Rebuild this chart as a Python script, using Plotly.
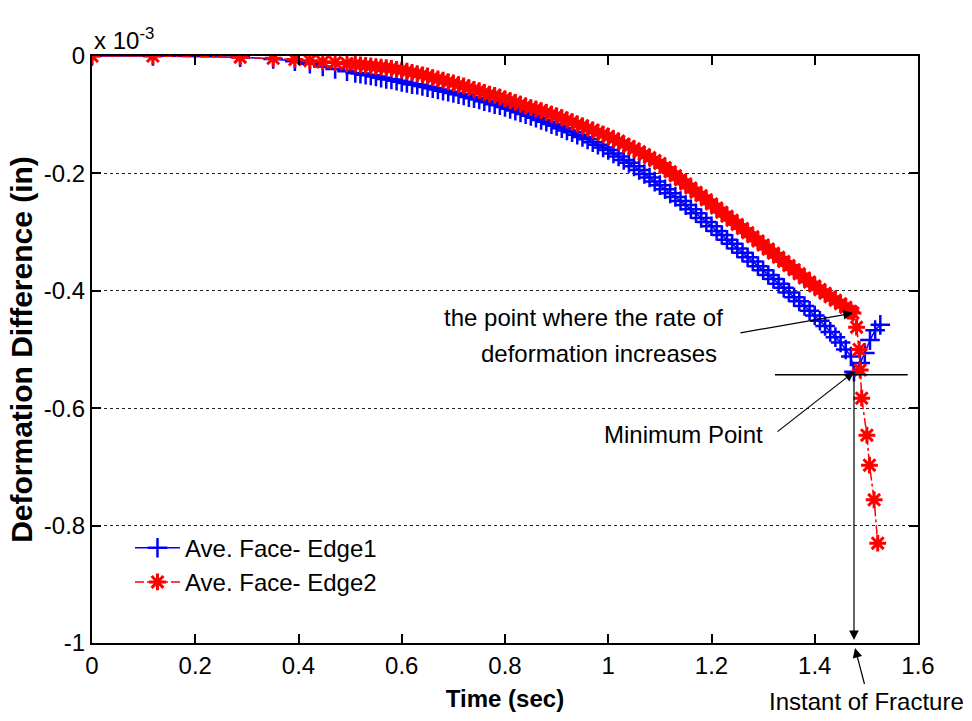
import plotly.graph_objects as go

# ---------------- data (deformation difference in units of 1e-3 in) ----------------
time_main = [0, 0.118, 0.287, 0.351, 0.393, 0.422, 0.447, 0.471, 0.494,
             0.51, 0.52, 0.53, 0.54, 0.55, 0.56, 0.57, 0.58, 0.59, 0.60,
             0.61, 0.62, 0.63, 0.64, 0.65, 0.66, 0.67, 0.68, 0.69, 0.70,
             0.71, 0.72, 0.73, 0.74, 0.75, 0.76, 0.77, 0.78, 0.79, 0.80,
             0.81, 0.82, 0.83, 0.84, 0.85, 0.86, 0.87, 0.88, 0.89, 0.90,
             0.91, 0.92, 0.93, 0.94, 0.95, 0.96, 0.97, 0.98, 0.99, 1.00,
             1.01, 1.02, 1.03, 1.04, 1.05, 1.06, 1.07, 1.08, 1.09, 1.10,
             1.11, 1.12, 1.13, 1.14, 1.15, 1.16, 1.17, 1.18, 1.19, 1.20,
             1.21, 1.22, 1.23, 1.24, 1.25, 1.26, 1.27, 1.28, 1.29, 1.30,
             1.31, 1.32, 1.33, 1.34, 1.35, 1.36, 1.37, 1.38, 1.39, 1.40,
             1.41, 1.42, 1.43, 1.44, 1.45, 1.46, 1.47]

edge1_main = [0, 0, -0.002, -0.005, -0.009, -0.013, -0.018, -0.022, -0.026,
              -0.029, -0.030, -0.032, -0.033, -0.035, -0.037, -0.039, -0.040, -0.042, -0.044,
              -0.046, -0.048, -0.049, -0.051, -0.053, -0.055, -0.057, -0.059, -0.061, -0.063,
              -0.065, -0.067, -0.070, -0.072, -0.074, -0.077, -0.079, -0.082, -0.084, -0.087,
              -0.090, -0.093, -0.096, -0.099, -0.102, -0.105, -0.109, -0.112, -0.116, -0.119,
              -0.123, -0.127, -0.130, -0.134, -0.138, -0.142, -0.147, -0.151, -0.156, -0.160,
              -0.166, -0.171, -0.177, -0.182, -0.188, -0.194, -0.201, -0.207, -0.214, -0.220,
              -0.227, -0.234, -0.240, -0.247, -0.254, -0.261, -0.268, -0.276, -0.283, -0.290,
              -0.298, -0.305, -0.313, -0.320, -0.328, -0.335, -0.343, -0.350, -0.358, -0.365,
              -0.373, -0.380, -0.388, -0.395, -0.403, -0.411, -0.418, -0.426, -0.434, -0.442,
              -0.451, -0.460, -0.470, -0.479, -0.488, -0.500, -0.512]

edge2_main = [0, 0, -0.002, -0.004, -0.006, -0.008, -0.010, -0.011, -0.013,
              -0.014, -0.015, -0.016, -0.017, -0.018, -0.019, -0.020, -0.021, -0.023, -0.024,
              -0.026, -0.028, -0.030, -0.032, -0.034, -0.037, -0.039, -0.041, -0.044, -0.046,
              -0.049, -0.051, -0.054, -0.057, -0.059, -0.062, -0.065, -0.067, -0.070, -0.073,
              -0.076, -0.079, -0.082, -0.085, -0.088, -0.090, -0.093, -0.096, -0.099, -0.102,
              -0.105, -0.109, -0.112, -0.116, -0.119, -0.123, -0.126, -0.130, -0.133, -0.137,
              -0.141, -0.145, -0.150, -0.154, -0.158, -0.163, -0.168, -0.173, -0.178, -0.183,
              -0.190, -0.197, -0.204, -0.211, -0.218, -0.225, -0.232, -0.238, -0.245, -0.252,
              -0.259, -0.266, -0.273, -0.280, -0.287, -0.294, -0.301, -0.308, -0.315, -0.322,
              -0.329, -0.336, -0.343, -0.350, -0.357, -0.364, -0.371, -0.378, -0.385, -0.392,
              -0.398, -0.404, -0.410, -0.416, -0.422, -0.428, -0.435]

edge1_tail_time = [1.476, 1.488, 1.497, 1.507, 1.517, 1.527]
edge1_tail = [-0.538, -0.523, -0.506, -0.484, -0.467, -0.458]

edge2_tail_time = [1.474, 1.481, 1.486, 1.488, 1.491, 1.501, 1.506, 1.515, 1.522]
edge2_tail = [-0.438, -0.462, -0.500, -0.535, -0.583, -0.646, -0.697, -0.756, -0.830]

x_ticks = [0, 0.2, 0.4, 0.6, 0.8, 1.0, 1.2, 1.4, 1.6]
x_tick_text = ["0", "0.2", "0.4", "0.6", "0.8", "1", "1.2", "1.4", "1.6"]
y_ticks = [0, -0.2, -0.4, -0.6, -0.8, -1.0]
y_tick_text = ["0", "-0.2", "-0.4", "-0.6", "-0.8", "-1"]

FONT = "Arial, Liberation Sans, sans-serif"

fig = go.Figure()
fig.add_trace(go.Scatter(
    x=time_main + edge1_tail_time, y=edge1_main + edge1_tail,
    mode="lines+markers", name="Ave. Face- Edge1",
    line=dict(color="#0000FF", width=1.5),
    marker=dict(symbol="cross-thin", size=14, color="#0000FF",
                line=dict(color="#0000FF", width=2.5)),
))
fig.add_trace(go.Scatter(
    x=time_main + edge2_tail_time, y=edge2_main + edge2_tail,
    mode="lines+markers", name="Ave. Face- Edge2",
    line=dict(color="#FF0000", width=1.5, dash="dashdot"),
    marker=dict(symbol="asterisk", size=14, color="#FF0000",
                line=dict(color="#FF0000", width=3)),
))

axis_common = dict(
    showline=True, linecolor="black", linewidth=2, mirror="ticks",
    ticks="inside", ticklen=9, tickwidth=2, tickcolor="black",
    zeroline=False, tickfont=dict(family=FONT, size=24, color="black"),
)
fig.update_xaxes(range=[0, 1.6], tickvals=x_ticks, ticktext=x_tick_text,
                 showgrid=False,
                 title=dict(text="<b>Time (sec)</b>", standoff=12,
                            font=dict(family=FONT, size=24, color="black")),
                 **axis_common)
fig.update_yaxes(range=[-1, 0], tickvals=y_ticks, ticktext=y_tick_text,
                 showgrid=True, gridcolor="#222222", griddash="dot", gridwidth=1,
                 title=dict(text="<b>Deformation Difference (in)</b>", standoff=2,
                            font=dict(family=FONT, size=30, color="black")),
                 **axis_common)

ann = []
txt_font = dict(family=FONT, size=24, color="black")
ann.append(dict(xref="paper", yref="paper", x=0.0, y=1.0, xanchor="left", yanchor="bottom",
                text="x 10<sup>-3</sup>", showarrow=False, font=txt_font))
ann.append(dict(xref="paper", yref="paper", x=(583 - 92) / 826, y=(643 - 317) / 587,
                xanchor="center", yanchor="middle",
                text="the point where the rate of", showarrow=False, font=txt_font))
ann.append(dict(xref="paper", yref="paper", x=(599 - 92) / 826, y=(643 - 353) / 587,
                xanchor="center", yanchor="middle",
                text="deformation increases", showarrow=False, font=txt_font))
ann.append(dict(xref="paper", yref="paper", x=(683 - 92) / 826, y=(643 - 434) / 587,
                xanchor="center", yanchor="middle",
                text="Minimum Point", showarrow=False, font=txt_font))
ann.append(dict(xref="paper", yref="paper", x=(866 - 92) / 826, y=(643 - 701) / 587,
                xanchor="center", yanchor="middle",
                text="Instant of Fracture", showarrow=False, font=txt_font))
arrow_style = dict(showarrow=True, arrowhead=2, arrowsize=1.6, arrowwidth=1.2,
                   arrowcolor="black", text=" ", font=dict(size=1), standoff=0, startstandoff=0)
# arrows
ann.append(dict(xref="x", yref="y", x=1.474, y=-0.438, axref="pixel", ayref="pixel",
                ax=-114, ay=20, **arrow_style))
ann.append(dict(xref="x", yref="y", x=1.476, y=-0.538, axref="pixel", ayref="pixel",
                ax=-78, ay=61, **arrow_style))
ann.append(dict(xref="x", yref="y", x=1.476, y=-0.995, axref="x", ayref="y",
                ax=1.476, ay=-0.543, **arrow_style))
ann.append(dict(xref="paper", yref="paper", x=(855 - 92) / 826, y=(643 - 648) / 587,
                axref="pixel", ayref="pixel", ax=10, ay=38, **arrow_style))

fig.update_layout(
    width=972, height=721,
    margin=dict(l=92, r=54, t=56, b=78),
    plot_bgcolor="white", paper_bgcolor="white",
    font=dict(family=FONT, size=24, color="black"),
    annotations=ann,
    shapes=[dict(type="line", xref="x", yref="y", x0=1.323, x1=1.58, y0=-0.543, y1=-0.543,
                 line=dict(color="black", width=1.5))],
    legend=dict(x=0.046, y=0.2, xanchor="left", yanchor="top", itemwidth=45,
                bgcolor="rgba(0,0,0,0)", borderwidth=0,
                font=dict(family=FONT, size=24, color="black"), tracegroupgap=0),
    showlegend=True,
)

fig.write_html("out.html")
